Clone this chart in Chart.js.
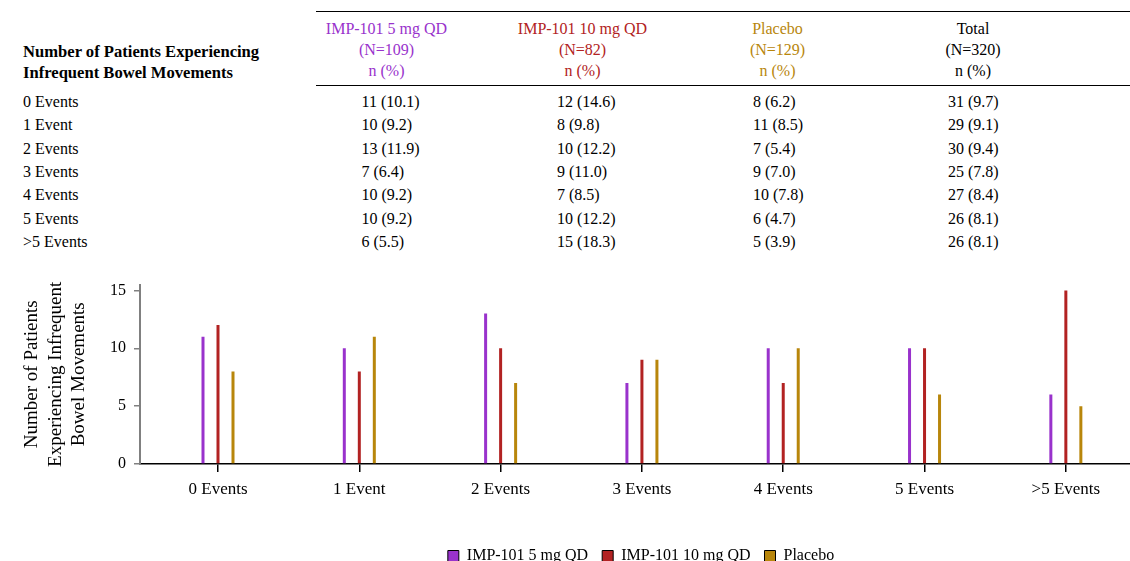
<!DOCTYPE html>
<html>
<head>
<meta charset="utf-8">
<script src="https://cdn.jsdelivr.net/npm/chart.js@4/dist/chart.umd.min.js"></script>
<style>
  html, body { margin: 0; padding: 0; background: #fff; overflow: hidden; width: 1130px; height: 561px; }
  body { position: relative; font-family: 'Liberation Serif', 'Times New Roman', serif; color: #000; }
  .t { position: absolute; white-space: nowrap; font-size: 16px; }
  .hline { position: absolute; left: 316px; width: 814px; height: 0; border-top: 1.5px solid #000; }
  #chartBox { position: absolute; left: 0; top: 267px; width: 1130px; height: 307px; }
</style>
</head>
<body>
<div id="table"></div>
<div id="chartBox"><canvas id="bmChart"></canvas></div>
<script>
// categories (rows / x axis)
const categories = ['0 Events', '1 Event', '2 Events', '3 Events', '4 Events', '5 Events', '>5 Events'];

// series names and colours
const seriesNames = ['IMP-101 5 mg QD', 'IMP-101 10 mg QD', 'Placebo'];
const seriesColors = ['#9932CC', '#B22222', '#B8860B'];
const groupN = [109, 82, 129];
const totalN = 320;

// counts and percentages
const imp5 = [11, 10, 13, 7, 10, 10, 6];
const imp5Pct = [10.1, 9.2, 11.9, 6.4, 9.2, 9.2, 5.5];
const imp10 = [12, 8, 10, 9, 7, 10, 15];
const imp10Pct = [14.6, 9.8, 12.2, 11.0, 8.5, 12.2, 18.3];
const placebo = [8, 11, 7, 9, 10, 6, 5];
const placeboPct = [6.2, 8.5, 5.4, 7.0, 7.8, 4.7, 3.9];
const total = [31, 29, 30, 25, 27, 26, 26];
const totalPct = [9.7, 9.1, 9.4, 7.8, 8.4, 8.1, 8.1];

const yTicks = [0, 5, 10, 15];

// ---- table ----
const tbl = document.getElementById('table');
function put(text, x, y, opts) {
    const d = document.createElement('div');
    d.className = 't';
    d.textContent = text;
    d.style.top = y + 'px';
    d.style.left = x + 'px';
    if (opts) Object.assign(d.style, opts);
    tbl.appendChild(d);
    return d;
}
function line(y) {
    const d = document.createElement('div');
    d.className = 'hline';
    d.style.top = y + 'px';
    tbl.appendChild(d);
}
line(11);
line(85);

put('Number of Patients Experiencing\nInfrequent Bowel Movements', 23, 42, {
    fontWeight: 'bold', fontSize: '16.6px', lineHeight: '20.6px', whiteSpace: 'pre'
});

const headCenters = [386.5, 582.5, 777.5, 973];
const headColors = seriesColors.concat(['#000']);
const headNames = seriesNames.concat(['Total']);
const headN = groupN.concat([totalN]);
headNames.forEach((name, i) => {
    put(name + '\n(N=' + headN[i] + ')\nn (%)', headCenters[i] - 100, 17.5, {
        width: '200px', textAlign: 'center', whiteSpace: 'pre',
        lineHeight: '21px', color: headColors[i]
    });
});

const colStarts = [361.5, 557, 753, 948];
const cols = [[imp5, imp5Pct], [imp10, imp10Pct], [placebo, placeboPct], [total, totalPct]];
categories.forEach((cat, r) => {
    const y = 90 + r * 23.3;
    put(cat, 23, y, { lineHeight: '23.3px' });
    cols.forEach((c, k) => {
        put(c[0][r] + ' (' + c[1][r].toFixed(1) + ')', colStarts[k], y, { lineHeight: '23.3px' });
    });
});

// ---- chart ----
Chart.defaults.font.family = "'Liberation Serif', 'Times New Roman', serif";
Chart.defaults.color = '#000';

const seriesData = [imp5, imp10, placebo];
const datasets = seriesNames.map((name, i) => ({
    label: name,
    data: seriesData[i].map((v, k) => ({ x: k, y: v })),
    backgroundColor: seriesColors[i],
    borderWidth: 0,
    categoryPercentage: 0.3185,
    barPercentage: 0.2
}));

// nudge the legend a little to the right, as in the source figure
const legendShift = {
    id: 'legendShift',
    afterLayout(chart) {
        chart.legend.left += 6;
        chart.legend.right += 6;
    }
};

new Chart(document.getElementById('bmChart'), {
    type: 'bar',
    data: { datasets: datasets },
    plugins: [legendShift],
    options: {
        responsive: true,
        maintainAspectRatio: false,
        animation: false,
        layout: { padding: { top: 13, right: 0, left: 0, bottom: 0 } },
        scales: {
            x: {
                type: 'linear',
                min: -0.552,
                max: 6.454,
                offset: false,
                afterBuildTicks: (scale) => { scale.ticks = categories.map((c, i) => ({ value: i })); },
                afterFit: (scale) => { scale.height = 70; },
                ticks: {
                    autoSkip: false,
                    maxRotation: 0,
                    padding: 7,
                    font: { size: 17 },
                    callback: (v) => categories[v]
                },
                grid: { offset: false, drawOnChartArea: false, color: '#000', lineWidth: 1.5, tickLength: 8 },
                border: { color: '#000', width: 1.5 }
            },
            y: {
                min: 0,
                max: 15.5,
                afterBuildTicks: (scale) => { scale.ticks = yTicks.map(v => ({ value: v })); },
                afterFit: (scale) => { scale.width = 140; },
                ticks: { padding: 8, font: { size: 16 } },
                grid: { drawOnChartArea: false, color: '#808080', lineWidth: 1.5, tickLength: 6 },
                border: { color: '#808080', width: 2 },
                title: {
                    display: true,
                    text: ['Number of Patients', 'Experiencing Infrequent', 'Bowel Movements'],
                    font: { size: 19, lineHeight: 1.25 },
                    padding: { top: 20, bottom: 0 }
                }
            }
        },
        plugins: {
            legend: {
                position: 'bottom',
                fullSize: false,
                labels: {
                    boxWidth: 11,
                    boxHeight: 11,
                    padding: 14,
                    font: { size: 16 },
                    generateLabels: (chart) => {
                        const items = Chart.defaults.plugins.legend.labels.generateLabels(chart);
                        items.forEach(it => { it.strokeStyle = '#000'; it.lineWidth = 1; });
                        return items;
                    }
                }
            },
            tooltip: { enabled: false }
        }
    }
});
</script>
</body>
</html>
